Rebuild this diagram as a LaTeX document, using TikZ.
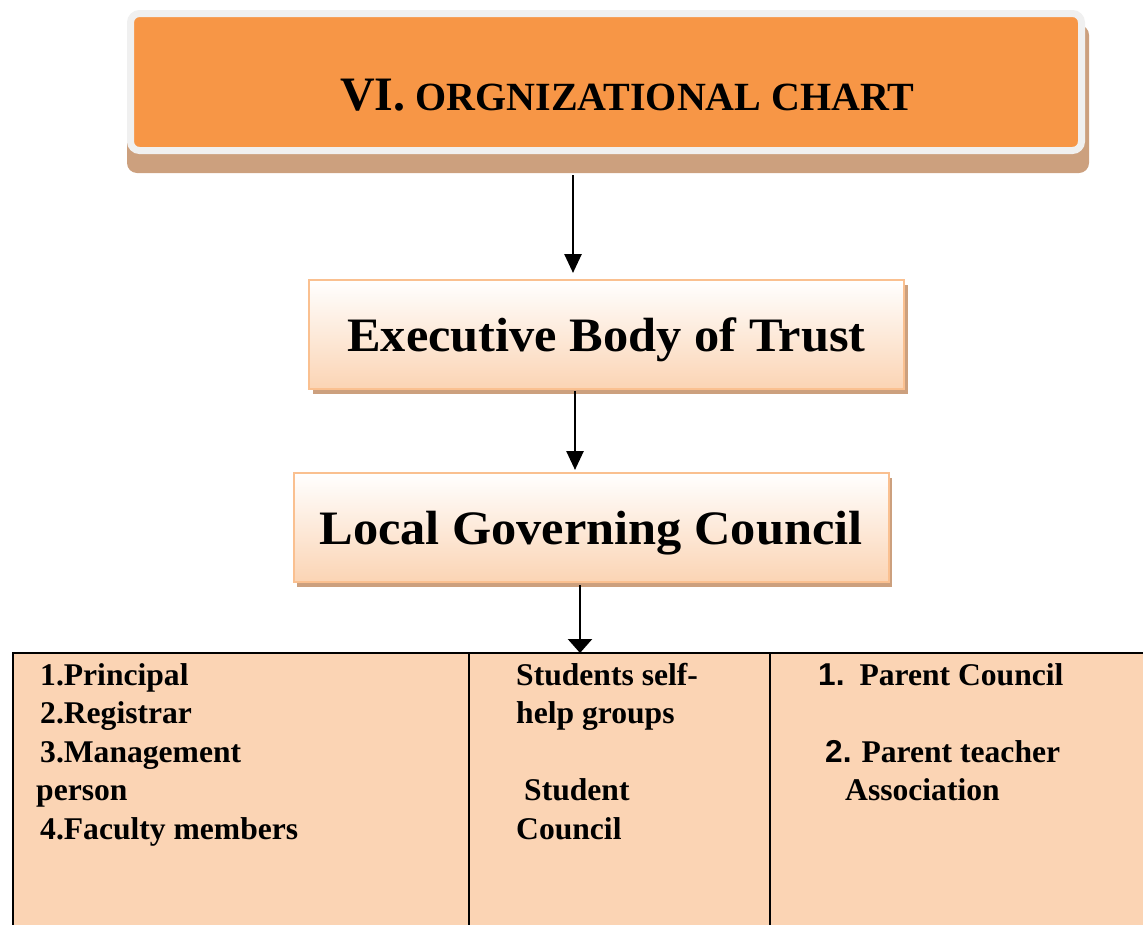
\documentclass[tikz,border=0pt]{standalone}
\usepackage{fontspec}
\setmainfont{Liberation Serif}
\newfontfamily\numfont{Liberation Sans}
\newfontfamily\boxfont[FakeStretch=1.05]{Liberation Serif}
\usetikzlibrary{arrows.meta}
\usetikzlibrary{positioning}
\usetikzlibrary{shadows}

\definecolor{chartorange}{RGB}{247,150,70}
\definecolor{rimgray}{RGB}{240,240,240}
\definecolor{shadowbrown}{RGB}{204,160,126}
\definecolor{boxline}{RGB}{250,192,144}
\definecolor{peach}{RGB}{251,212,180}

\begin{document}
\begin{tikzpicture}[x=1pt, y=-1pt,
    titlebox/.style={rectangle, rounded corners=9pt, draw=rimgray, line width=7pt, fill=chartorange, minimum width=951pt, minimum height=137pt},
    levelbox/.style={rectangle, draw=boxline, line width=2pt, top color=white, bottom color=peach, drop shadow={shadow xshift=3.5pt, shadow yshift=-5pt, fill=shadowbrown, opacity=1}, minimum width=595pt, minimum height=109pt, text depth=0pt, font=\boxfont\fontsize{48}{48}\selectfont\bfseries},
    cell/.style={rectangle, draw=black, line width=2pt, fill=peach, anchor=north west, minimum height=320pt, outer sep=0pt},
    celltext/.style={anchor=base west, inner sep=0pt, align=left, font=\fontsize{31.6}{38.5}\selectfont\bfseries},
    arr/.style={-{Triangle[length=19pt, width=17pt]}, line width=2.6pt},
    widearr/.style={-{Triangle[length=14pt, width=24pt]}, line width=2.6pt}]
    \clip (0,0) rectangle (1143,924);

    % heading
    \fill[shadowbrown, rounded corners=10pt] (127,25) rectangle (1089,173);
    \node (title) [titlebox] at (606,82) {};
    \node (titletext) [anchor=base west, inner sep=0pt, font=\bfseries] at (340,110)
        {{\fontsize{48}{48}\selectfont VI.}\hspace{10pt}{\fontsize{40}{40}\selectfont ORGNIZATIONAL CHART}};

    % levels
    \node (exec) [levelbox] at (606.5,334.5) {Executive Body of Trust\hspace{26pt}};
    \node (lgc) [levelbox, below=82pt of exec, xshift=-15.5pt] {Local Governing Council};

    % table
    \node (cellA) [cell, minimum width=456pt] at (13,653) {};
    \node (cellB) [cell, minimum width=301pt, right=0pt of cellA] {};
    \node (cellC) [cell, minimum width=420pt, right=0pt of cellB] {};

    % lists (placed by their last baseline)
    \node (staff) [celltext] at (36,839)
        {\hspace{4pt}1.Principal\\ \hspace{4pt}2.Registrar\\ \hspace{4pt}3.Management\\ person\\ \hspace{4pt}4.Faculty members};
    \node (students) [celltext] at (516,839)
        {Students self-\\ help groups\\[38.5pt] \hspace{8pt}Student\\ Council};
    \node (parents) [celltext] at (818,800.5)
        {{\numfont 1.}\hspace{15pt}Parent Council\\[38.5pt] \hspace{7pt}{\numfont 2.}\hspace{10pt}Parent teacher\\ \hspace{27pt}Association};

    % arrows
    \coordinate (a1) at (573,175);
    \coordinate (a2) at (575,391);
    \coordinate (a3) at (580,585);
    \draw[arr, shorten >=6pt] (a1) -- (a1 |- exec.north);
    \draw[arr, shorten >=2pt] (a2) -- (a2 |- lgc.north);
    \draw[widearr] (a3) -- (a3 |- cellB.north);
\end{tikzpicture}
\end{document}
